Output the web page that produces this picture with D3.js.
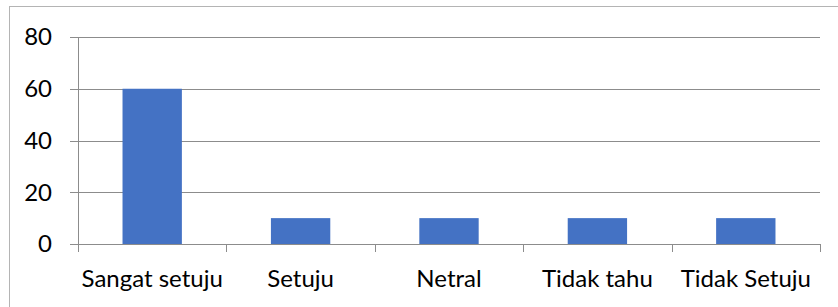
<!DOCTYPE html>
<html>
<head>
<meta charset="utf-8">
<script src="https://cdnjs.cloudflare.com/ajax/libs/d3/7.8.5/d3.min.js"></script>
<style>
  body { margin: 0; background: #fff; }
  text { font-family: Lato, "Open Sans", sans-serif; fill: #000; }
</style>
</head>
<body>
<div id="chart"></div>
<script>
// data
var categories = ["Sangat setuju", "Setuju", "Netral", "Tidak tahu", "Tidak Setuju"];
var values = [60, 10, 10, 10, 10];
var yTicks = [0, 20, 40, 60, 80];

var W = 838, H = 307;
var margin = {top: 37, right: 18, bottom: 63, left: 78},
    width = W - margin.left - margin.right,
    height = H - margin.top - margin.bottom;

var svg = d3.select("#chart")
  .append("svg")
    .attr("width", W)
    .attr("height", H);

// outer chart border (runs off the right and bottom edges)
svg.append("rect")
  .attr("x", 9.5).attr("y", 6.5)
  .attr("width", 840).attr("height", 310)
  .attr("fill", "none")
  .attr("stroke", "#b4b4b4");

var g = svg.append("g")
  .attr("transform", "translate(" + margin.left + "," + margin.top + ")");

var x = d3.scaleBand()
  .domain(categories)
  .range([0, width])
  .paddingInner(0.6)
  .paddingOuter(0.3);

var y = d3.scaleLinear()
  .domain([0, 80])
  .range([height, 0]);

// gridlines
g.append("g")
  .selectAll("line")
  .data(yTicks)
  .enter()
  .append("line")
    .attr("x1", -8)
    .attr("x2", width)
    .attr("y1", function(d) { return Math.round(y(d)) + 0.5; })
    .attr("y2", function(d) { return Math.round(y(d)) + 0.5; })
    .attr("stroke", "#8c8c8c")
    .attr("stroke-width", 1);

// bars
g.append("g")
  .selectAll("rect")
  .data(values)
  .enter()
  .append("rect")
    .attr("x", function(d, i) { return x(categories[i]); })
    .attr("y", function(d) { return y(d); })
    .attr("width", x.bandwidth())
    .attr("height", function(d) { return height - y(d); })
    .attr("fill", "#4472c4");

// y axis line
g.append("line")
  .attr("x1", 0.5).attr("x2", 0.5)
  .attr("y1", 0).attr("y2", height + 8)
  .attr("stroke", "#8c8c8c");

// x axis category boundary ticks
var step = width / categories.length;
g.append("g")
  .selectAll("line")
  .data(d3.range(categories.length + 1))
  .enter()
  .append("line")
    .attr("x1", function(i) { return Math.round(i * step) + 0.5; })
    .attr("x2", function(i) { return Math.round(i * step) + 0.5; })
    .attr("y1", height)
    .attr("y2", height + 8)
    .attr("stroke", "#8c8c8c");

// y tick labels
g.append("g")
  .selectAll("text")
  .data(yTicks)
  .enter()
  .append("text")
    .attr("x", -26)
    .attr("y", function(d) { return y(d); })
    .attr("dy", "0.35em")
    .attr("text-anchor", "end")
    .style("font-size", "24px")
    .text(function(d) { return d; });

// x category labels
g.append("g")
  .selectAll("text")
  .data(categories)
  .enter()
  .append("text")
    .attr("x", function(d) { return x(d) + x.bandwidth() / 2; })
    .attr("y", height + 43)
    .attr("text-anchor", "middle")
    .style("font-size", "24px")
    .text(function(d) { return d; });
</script>
</body>
</html>
